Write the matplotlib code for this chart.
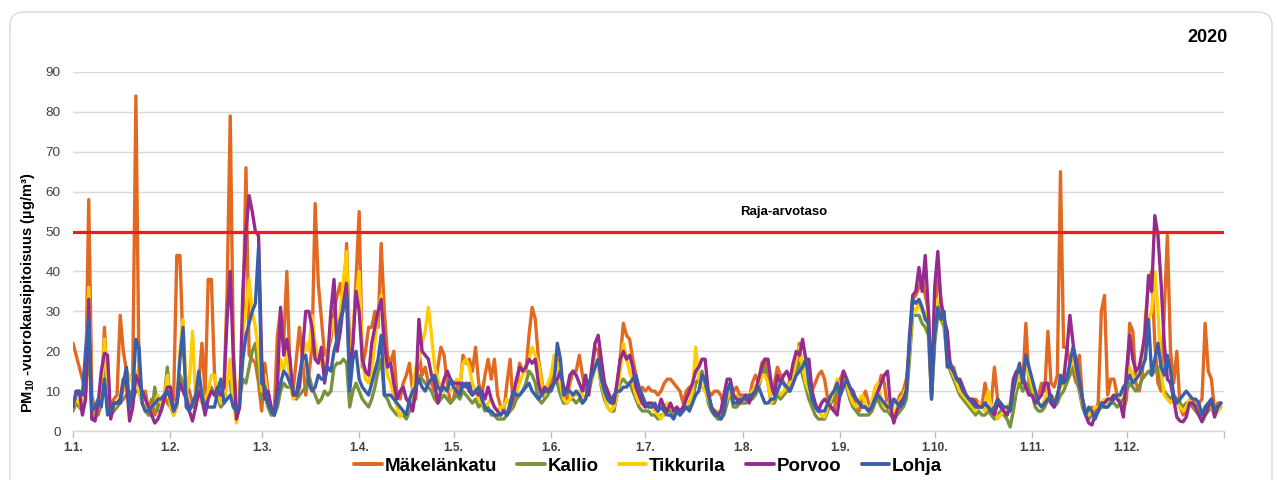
import numpy as np
import matplotlib
matplotlib.use("Agg")
import matplotlib.pyplot as plt
import matplotlib.dates as mdates
import matplotlib.ticker as mticker
from matplotlib.patches import FancyBboxPatch
from matplotlib.transforms import IdentityTransform

plt.rcParams['font.family'] = ['Liberation Sans', 'DejaVu Sans']
plt.rcParams['mathtext.fontset'] = 'custom'
plt.rcParams['mathtext.rm'] = 'Liberation Sans:bold'
plt.rcParams['mathtext.bf'] = 'Liberation Sans:bold'
plt.rcParams['mathtext.it'] = 'Liberation Sans:bold'

# ---------------- data (daily PM10, 2020) ----------------
series_names = ["Mäkelänkatu", "Kallio", "Tikkurila", "Porvoo", "Lohja"]
series_colors = ["#E2691F", "#77933C", "#FFCC00", "#952A8F", "#3A5EAA"]

month_labels = ["1.1.", "1.2.", "1.3.", "1.4.", "1.5.", "1.6.",
                "1.7.", "1.8.", "1.9.", "1.10.", "1.11.", "1.12."]

limit_value = 50
limit_label = "Raja-arvotaso"
year_label = "2020"

makelankatu = [
    22,19,16,13,10,58,9,5,4,7,26,10,6,8,9,29,20,15,13,14,84,14,9,10,5,8,4,6,8,9,7,
    6,8,44,44,21,12,10,7,6,12,22,9,38,38,14,8,9,10,35,79,20,5,8,25,66,19,18,17,12,
    5,17,10,6,5,24,30,22,40,15,10,18,26,18,9,14,21,57,37,28,19,20,23,30,34,37,30,47,20,22,38,
    55,16,20,26,26,30,26,47,30,19,17,20,9,8,12,14,17,10,8,20,14,16,12,12,10,16,21,19,12,7,
    8,12,10,19,17,18,15,21,12,9,14,18,13,18,9,6,5,12,18,6,10,17,15,15,24,31,28,18,13,8,11,
    13,14,18,13,11,8,12,15,15,19,14,10,10,15,21,20,15,12,10,8,6,12,18,27,24,23,18,14,9,11,
    10,11,10,10,9,10,12,13,13,12,11,10,7,10,11,8,12,13,14,12,10,9,10,10,9,6,9,12,10,11,9,
    9,9,8,12,14,12,17,18,13,10,12,16,14,12,10,13,16,16,22,14,12,10,10,12,14,15,13,8,6,5,10,
    13,15,13,10,8,6,5,8,10,7,5,8,10,14,12,6,4,8,7,9,10,13,20,33,34,36,38,34,30,10,
    28,40,33,28,22,16,16,13,10,9,8,7,6,8,7,6,12,8,7,16,8,6,5,4,6,8,12,16,12,27,12,
    10,8,9,12,10,25,12,11,14,65,21,21,17,15,12,19,8,5,4,6,5,7,30,34,9,13,13,9,7,5,
    8,27,25,12,10,14,28,37,40,22,12,10,30,49,20,12,20,6,4,5,7,8,6,7,8,27,15,13,5,7,7,
]

kallio = [
    5,7,6,5,10,22,3,3,5,8,15,6,4,5,6,7,8,9,10,8,10,10,7,5,4,4,11,5,5,8,16,
    6,4,6,14,12,9,6,6,7,9,8,6,9,11,9,8,6,7,13,12,6,5,8,13,12,16,20,22,14,
    8,9,6,4,4,6,10,12,11,11,10,8,9,10,11,14,11,9,7,8,10,9,10,16,17,17,18,17,6,10,12,
    10,8,7,6,8,11,15,18,9,8,6,5,4,4,4,3,5,8,12,14,13,12,11,10,8,7,8,9,8,7,
    8,9,8,10,9,8,7,8,6,7,5,6,4,4,3,3,3,4,5,6,8,9,10,12,15,14,12,8,7,8,9,
    11,13,12,9,7,7,8,8,7,8,7,8,10,13,16,17,11,8,6,5,5,9,12,13,12,12,10,8,6,5,
    5,5,4,4,3,4,4,5,5,4,5,4,5,6,6,8,12,13,15,12,7,5,4,3,3,4,7,10,6,6,7,
    7,7,8,8,9,11,14,16,12,7,7,9,8,9,10,10,12,15,17,14,11,8,6,4,3,3,3,5,7,8,11,
    9,12,11,8,6,5,4,4,4,4,5,7,8,6,5,5,4,3,4,5,6,8,18,29,29,29,27,26,24,8,
    22,29,28,26,18,15,13,11,9,8,7,6,5,4,5,4,4,5,4,3,4,5,4,3,1,5,10,12,10,12,11,
    9,6,5,5,6,8,7,6,7,9,10,12,14,16,13,10,6,4,3,4,4,5,6,6,6,7,7,6,7,8,
    10,12,11,10,11,13,14,15,14,15,16,12,10,9,8,9,8,7,6,7,7,6,5,4,3,4,5,6,4,5,6,
]

tikkurila = [
    6,8,7,5,12,36,5,4,6,8,23,12,5,6,7,8,10,12,14,12,15,10,7,6,5,6,7,9,7,8,14,
    6,4,6,20,28,10,12,25,8,9,7,8,10,14,14,10,7,8,12,18,7,2,10,25,30,38,30,26,20,
    10,14,8,5,5,12,18,15,20,12,8,9,12,18,22,20,29,22,18,17,15,20,25,28,22,30,38,45,12,25,33,
    40,18,13,12,15,22,30,34,20,14,12,9,6,3.5,5,4,7,10,16,18,22,25,31,24,16,13,11,10,11,10,
    11,13,12,17,18,16,12,10,8,7,6,7,8,6,5,6,6,8,7,9,10,12,14,16,18,21,19,17,12,9,12,
    14,19,17,12,8,7,8,9,9,10,9,8,10,14,18,16,12,9,6,5,6,9,15,22,18,15,12,9,7,7,
    6,7,6,5,4,3,5,7,6,5,6,4,6,7,7,10,21,13,11,10,8,6,5,5,4,6,8,10,8,9,7,
    8,8,9,10,11,12,14,14,12,7,8,10,9,10,11,12,14,18,21,16,12,10,8,6,5,4,3.5,6,8,10,13,
    10,13,12,9,7,6,8,9,6,5,7,11,12,8,6,7,5,4,6,8,9,11,20,31,30,32,30,30,26,10,
    24,33,30,27,20,16,14,12,10,9,8,7,6,5,7,6,5,10,6,5,3,4,5,6,7,9,12,14,12,16,14,
    11,8,7,6,8,10,9,8,9,11,12,14,16,18,15,12,7,5,4,5,6,6,7,8,7,8,9,8,9,10,
    13,16,14,13,14,17,24,28,30,40,30,15,9,8,7,8,7,6,5,6,8,7,6,5,4,6,7,6,4,5,6,
]

porvoo = [
    6,10,10,4,8,33,3,2.5,7,15,19.5,19,3,7,7,8,13,12,2.5,6,14,12,10,8,6,4,2,3,5,8,11,
    11,5,7,12,10,8,5,2.5,6,10,8,4,8,10,9,11,9,11,28,40,18,3,6,35,50,59,55,50,49,
    18,8,10,6,4,12,31,19,23,18,9,9,11,20,30,30,26,18,17,21,12,18,30,38,20,25,32,37,12,22,35,
    30,18,15,14,22,26,30,33,22,16,17,12,8,10,11,8,7,5,10,28,20,19,18,14,12,7,10,13,15,13,
    12,12,12,11,12,10,9,10,9,10,8,11,8,6,5,4,5,4,6,9,13,16,15,16,18,17,18,12,9,11,10,
    11,12,13,15,11,10,14,15,14,12,10,14,9,16,22,24,18,12,10,8,7,12,18,20,18,19,16,11,9,7,
    6,7,7,6,5,8,6,5,7,5,6,5,6,8,10,12,15,16,18,18,10,6,5,4,5,9,13,13,9,8,7,
    8,9,7,9,10,13,16,18,18,12,9,14,12,14,15,13,17,20,19,23,18,18,10,7,5,7,8,7,6,5,4,
    10,15,13,11,10,8,7,6,6,5,6,8,10,12,14,15,6,2,5,7,8,10,24,34,35,41,35,44,30,9,
    36,45,32,28,25,16,15,13,13,11,9,8,8,7,6,6,7,6,5,4,7,6,5,4,6,13,15,15,14,11,9,
    9,7,8,9,12,12,7,6,9,12,13,20,29,22,16,12,8,4,2,1.5,4,5,7,7,8,8,9,8,7,3.5,
    15,24,18,15,16,20,25,39,35,54,49,37,22,13,12,8,3.5,2.5,2.3,3.5,7,7,6,4,2.3,4,6,8,3.5,6,7,
]

lohja = [
    7,9,10,9,20,28,5,6,8,6,13,4,5,7,7,7,12,16,6,10,23,21,7,5,5,6,7,8,8,9,10,
    8,5,7,18,26,6,5,7,9,15,9,6,6,6,6,10,13,7,8,9,6,5,7,18,24,27,30,32,46,
    12,11,7,5,4,8,12,15,14,12,10,9,14,18,19,12,10,11,14,13,13,16,15,20,23,28,31,34,10,18,20,
    13,11,10,9,12,15,18,24,9,9,9,8,7,6,5,4,8,10,11,13,11,10,12,13,14,11,10,11,10,13,
    11,10,9,12,11,12,9,10,11,8,6,5,5,4,4,4,5,4,7,10,9,9,10,11,12,10,9,8,9,10,10,
    10,12,22,18,9,10,10,9,10,9,7,8,12,14,16,18,13,10,8,7,9,10,10,11,11,12,13,14,11,9,
    7,6,6,7,5,6,5,4,4,3,5,4,5,6,5,7,9,10,14,13,9,6,4,4,3,5,10,12,7,7,8,
    8,8,9,9,10,11,9,7,7,8,8,10,12,12,11,10,12,14,15,16,18,12,8,6,5,5,5,7,9,10,12,
    9,11,13,11,9,8,7,6,6,5,6,8,9,8,7,6,6,8,7,6,7,10,22,33,32,33,31,28,27,8,
    24,31,28,30,16,17,15,13,12,10,9,8,7,6,6,6,7,6,5,6,8,7,6,6,5,10,14,17,12,19,16,
    13,10,7,6,7,8,9,7,8,14,12,13,17,21,18,13,8,4,6,5,3,5,7,6,6,7,8,9,9,11,
    12,14,12,13,14,16,18,28,14,18,22,16,14,19,15,9,7,8,9,10,9,8,8,7,4,6,7,8,5,6,7,
]

dates = np.arange('2020-01-01', '2021-01-01', dtype='datetime64[D]')
all_series = [makelankatu, kallio, tikkurila, porvoo, lohja]
for s in all_series:
    assert len(s) == len(dates), len(s)

# ---------------- figure ----------------
W, H = 1277, 480
fig = plt.figure(figsize=(W / 100, H / 100), dpi=100)
fig.patch.set_facecolor('white')

frame = FancyBboxPatch((10, -30), 1262, 480 - 12 + 30,
                       boxstyle='round,pad=0,rounding_size=14',
                       transform=IdentityTransform(), facecolor='none',
                       edgecolor='#d9d9d9', linewidth=1.0, zorder=-5)
fig.patches.append(frame)

ax = fig.add_axes([73 / W, 1 - 431 / H, (1224 - 73) / W, (431 - 72) / H])
ax.set_facecolor('none')
ax.set_zorder(2)

for vals, name, col in zip(all_series, series_names, series_colors):
    ax.plot(dates, vals, color=col, lw=2.4, label=name, solid_joinstyle='round',
            solid_capstyle='round', zorder=3)

ax.axhline(limit_value, color='#F01A22', lw=2.3, zorder=4)

start = np.datetime64('2020-01-01')
end = np.datetime64('2021-01-01')
ax.set_xlim(mdates.date2num(start), mdates.date2num(end))
ax.set_ylim(0, 90)

ax.yaxis.set_major_locator(mticker.MultipleLocator(10))
ax.grid(axis='y', color='#d9d9d9', lw=1.0, zorder=0)
ax.set_axisbelow(True)

month_starts = np.arange('2020-01', '2021-01', dtype='datetime64[M]').astype('datetime64[D]')
ax.set_xticks(mdates.date2num(month_starts))
ax.set_xticklabels(month_labels, fontsize=8.6, fontweight='bold', color='#404040')
ax.set_xticks([mdates.date2num(end)], minor=True)
ax.tick_params(axis='x', which='both', direction='out', length=5, width=1,
               color='#bfbfbf', pad=3)
ax.tick_params(axis='y', length=0, pad=9, labelsize=9.7, labelcolor='#404040')

for sp in ['top', 'right', 'left']:
    ax.spines[sp].set_visible(False)
ax.spines['bottom'].set_color('#d9d9d9')
ax.spines['bottom'].set_linewidth(1.0)

ax.text(mdates.date2num(np.datetime64('2020-08-14')), 54.9, limit_label,
        ha='center', va='center', fontsize=9.5, fontweight='bold', color='#000000')

fig.text(1208 / W, 1 - 38 / H, year_label, ha='center', va='center',
         fontsize=13, fontweight='bold', color='#000000')

fig.text(28 / W, 1 - 293 / H, r'PM$_{10}$ -vuorokausipitoisuus (µg/m³)',
         rotation=90, ha='center', va='center', fontsize=10.5,
         fontweight='bold', color='#000000')

leg = fig.legend(loc='center', bbox_to_anchor=(648 / W, 1 - 466 / H), ncol=5,
                 frameon=False, fontsize=13.5, handlelength=1.45,
                 handletextpad=0.15, columnspacing=1.1, borderaxespad=0)
for t in leg.get_texts():
    t.set_fontweight('bold')
    t.set_color('#000000')
for h in leg.legend_handles:
    h.set_linewidth(2.8)

fig.savefig('out.png', dpi=100, facecolor='white')
